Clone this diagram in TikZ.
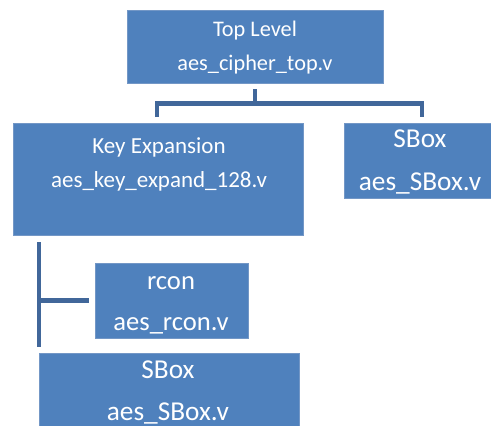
\documentclass[tikz,border=0pt]{standalone}
\usepackage{fontspec}
\setmainfont{Carlito}
\definecolor{boxfill}{HTML}{4F81BD}
\definecolor{boxedge}{HTML}{7397C6}
\definecolor{linecol}{HTML}{41679A}
\begin{document}
\begin{tikzpicture}[x=1pt,y=-1pt,
  blk/.style={draw=boxedge, line width=0.8pt, fill=boxfill, inner sep=0pt, outer sep=0pt},
  lbl/.style={text=white, anchor=base, inner sep=0pt},
  conn/.style={draw=linecol, line width=4.5pt}]
\useasboundingbox (0,0) rectangle (491,426);
% boxes
\node[blk, minimum width=256, minimum height=73] (top) at (255,46.5) {};
\node[blk, minimum width=290, minimum height=112] (key) at (158,179) {};
\node[blk, minimum width=150, minimum height=75] (sbox1) at (419,160.5) {};
\node[blk, minimum width=153, minimum height=75] (rcon) at (171.5,300.5) {};
\node[blk, minimum width=260, minimum height=80] (sbox2) at (169,393) {};
% labels
\node[lbl, font=\fontsize{22.3}{24}\selectfont] (t1) at (255,36) {Top Level};
\node[lbl, font=\fontsize{22.3}{24}\selectfont] (t2) at (255,70) {aes\_cipher\_top.v};
\node[lbl, font=\fontsize{23}{24}\selectfont] (k1) at (159,153) {Key Expansion};
\node[lbl, font=\fontsize{23}{24}\selectfont] (k2) at (159,187) {aes\_key\_expand\_128.v};
\node[lbl, font=\fontsize{27.3}{30}\selectfont] (s1) at (420,147) {SBox};
\node[lbl, font=\fontsize{27.3}{30}\selectfont] (s2) at (420,190) {aes\_SBox.v};
\node[lbl, font=\fontsize{26.6}{30}\selectfont] (r1) at (171,289) {rcon};
\node[lbl, font=\fontsize{26.6}{30}\selectfont] (r2) at (171,330) {aes\_rcon.v};
\node[lbl, font=\fontsize{27.3}{30}\selectfont] (b1) at (168,378) {SBox};
\node[lbl, font=\fontsize{27.3}{30}\selectfont] (b2) at (168,420) {aes\_SBox.v};
% connectors
\coordinate (j) at (255,103.5);
\coordinate (jl) at (157,103.5);
\coordinate (jr) at (422,103.5);
\coordinate (kl) at (157,117);
\coordinate (sr) at (422,117);
\path[conn] ([yshift=-6pt]top.south) -- (j);
\path[conn] (kl) -- (jl) -- (jr) -- (sr);
\coordinate (v1) at (39,242);
\coordinate (v2) at (39,347);
\coordinate (h1) at (39,300.5);
\coordinate (h2) at (89,300.5);
\path[conn] (v1) -- (v2);
\path[conn] (h1) -- (h2);
\end{tikzpicture}
\end{document}
